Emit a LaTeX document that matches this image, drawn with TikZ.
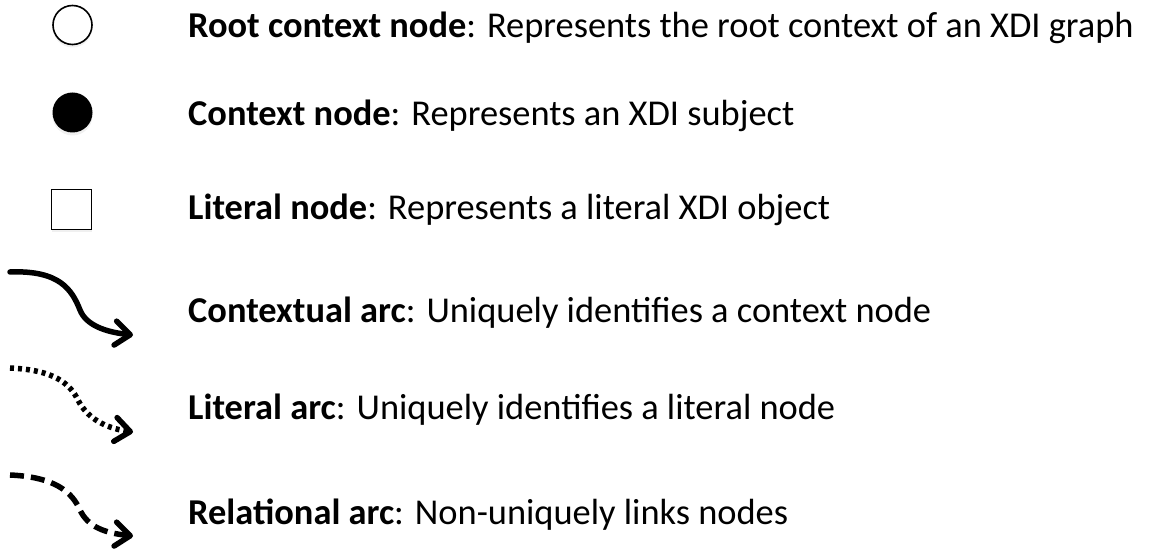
\documentclass[tikz,border=0pt]{standalone}
\usepackage{fontspec}
\setmainfont{Carlito}
\usepackage{tikz}
\usetikzlibrary{arrows.meta, positioning, shadows}

\begin{document}
\begin{tikzpicture}[x=1pt, y=-1pt,
    legendtext/.style={anchor=base west, inner sep=0pt, font=\fontsize{36.4}{42}\selectfont},
    symshadow/.style={drop shadow={shadow xshift=0pt, shadow yshift=-3pt, opacity=0.12}},
    arcline/.style={line width=5.5pt, line cap=round, -{Straight Barb[length=15pt, width=24pt, line cap=round, line join=round]}}]
            \useasboundingbox (0,0) rectangle (1150,553);

            % Draw node symbols
            \node[circle, draw, line width=1.6pt, fill=white, minimum size=39pt, inner sep=0pt, symshadow] (rootsym) at (72.5,25) {};
            \node[circle, fill=black, minimum size=40pt, inner sep=0pt, symshadow] (ctxsym) at (72.5,112.5) {};
            \node[rectangle, draw, line width=1.6pt, fill=white, minimum size=40pt, inner sep=0pt, symshadow] (litsym) at (71.5,209.5) {};

            % Draw arcs
            \coordinate (ctxarcA) at (10,272);
            \coordinate (ctxarcB) at (133,335);
            \coordinate (litarcA) at (10,368);
            \coordinate (litarcB) at (133,432);
            \coordinate (relarcA) at (10,475);
            \coordinate (relarcB) at (133,536);
            \draw[arcline] (ctxarcA) .. controls (60,270) and (72,290) .. (80,310) .. controls (86,325) and (105,332) .. (ctxarcB);
            \draw[arcline, line cap=butt, dash pattern=on 4pt off 4pt] (litarcA) .. controls (55,370) and (70,384) .. (78,400) .. controls (87,418) and (105,428) .. (litarcB);
            \draw[arcline, line cap=butt, dash pattern=on 14pt off 7pt] (relarcA) .. controls (55,477) and (72,492) .. (80,510) .. controls (88,527) and (105,533) .. (relarcB);

            % Labels
            \node[legendtext] (rootlbl) at (188,38) {\textbf{Root context node}: Represents the root context of an XDI graph};
            \node[legendtext] (ctxlbl) at (188,126) {\textbf{Context node}: Represents an XDI subject};
            \node[legendtext] (litlbl) at (188,220) {\textbf{Literal node}: Represents a literal XDI object};
            \node[legendtext] (ctxarclbl) at (188,322) {\textbf{Contextual arc}: Uniquely identifies a context node};
            \node[legendtext] (litarclbl) at (188,419) {\textbf{Literal arc}: Uniquely identifies a literal node};
            \node[legendtext] (relarclbl) at (188,524) {\textbf{Relational arc}: Non-uniquely links nodes};
        \end{tikzpicture}
\end{document}
